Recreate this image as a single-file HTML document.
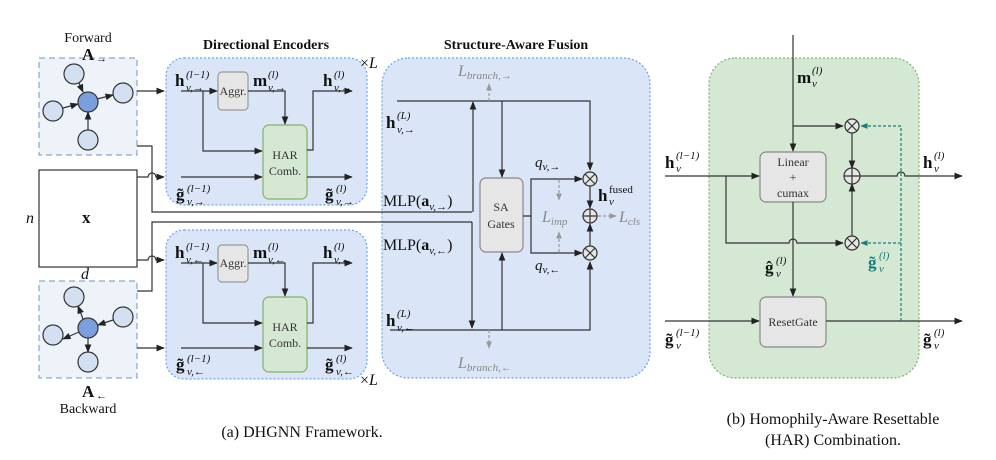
<!DOCTYPE html>
<html><head><meta charset="utf-8"><style>
html,body{margin:0;padding:0;background:#fff;}
svg{display:block;font-family:"Liberation Serif",serif;}
.b{font-weight:bold;font-size:17px;}
.s{font-style:italic;font-size:11px;}
.t{font-size:12px;fill:#333;}
.g{fill:#888;}
</style></head><body>
<svg width="996" height="460" viewBox="0 0 996 460" xmlns="http://www.w3.org/2000/svg">
<defs>
<marker id="a" viewBox="0 0 10 10" refX="9" refY="5" markerWidth="7" markerHeight="7" orient="auto-start-reverse"><path d="M0,1 L10,5 L0,9 z" fill="#222"/></marker>
<marker id="ag" viewBox="0 0 10 10" refX="9" refY="5" markerWidth="6" markerHeight="6" orient="auto-start-reverse"><path d="M0,1 L10,5 L0,9 z" fill="#999"/></marker>
<marker id="at" viewBox="0 0 10 10" refX="9" refY="5" markerWidth="6" markerHeight="6" orient="auto-start-reverse"><path d="M0,1 L10,5 L0,9 z" fill="#1a7a7a"/></marker>
</defs>
<g stroke="#333" stroke-width="1.2" fill="none">
<!-- graph boxes -->
<rect x="39" y="58" width="98" height="97" fill="#eef3fa" stroke="#8aa6c8" stroke-dasharray="6,4"/>
<rect x="39" y="281" width="98" height="97" fill="#eef3fa" stroke="#8aa6c8" stroke-dasharray="6,4"/>
<rect x="39" y="170" width="98" height="97" fill="#fff"/>
<!-- encoder boxes -->
<rect x="166" y="58" width="201" height="147" rx="18" fill="#dae5f7" stroke="#6aa0f0" stroke-dasharray="2,2"/>
<rect x="166" y="230" width="201" height="149" rx="18" fill="#dae5f7" stroke="#6aa0f0" stroke-dasharray="2,2"/>
<rect x="382" y="58" width="268" height="320" rx="26" fill="#dae5f7" stroke="#6aa0f0" stroke-dasharray="2,2"/>
<rect x="709" y="58" width="210" height="320" rx="26" fill="#d5e8d4" stroke="#82b366" stroke-dasharray="2,2"/>
<!-- nodes forward -->
<g fill="#d3e0f2" stroke="#333">
<circle cx="74" cy="74" r="10"/><circle cx="123" cy="93" r="10"/><circle cx="53" cy="111" r="10"/><circle cx="88" cy="140" r="10"/>
<circle cx="74" cy="297" r="10"/><circle cx="123" cy="317" r="10"/><circle cx="53" cy="335" r="10"/><circle cx="88" cy="362" r="10"/>
</g>
<g fill="#7a9fdc"><circle cx="88" cy="102" r="10"/><circle cx="88" cy="328" r="10"/></g>
<line x1="79" y1="83" x2="83" y2="92" marker-end="url(#a)"/>
<line x1="97" y1="99" x2="113" y2="95" marker-end="url(#a)"/>
<line x1="63" y1="108" x2="78" y2="104" marker-end="url(#a)"/>
<line x1="88" y1="130" x2="88" y2="112" marker-end="url(#a)"/>
<line x1="83" y1="319" x2="78" y2="306" marker-end="url(#a)"/>
<line x1="113" y1="320" x2="98" y2="325" marker-end="url(#a)"/>
<line x1="79" y1="332" x2="63" y2="339" marker-end="url(#a)"/>
<line x1="88" y1="338" x2="88" y2="352" marker-end="url(#a)"/>
<!-- inputs to encoders -->
<line x1="137" y1="91" x2="164" y2="91" marker-end="url(#a)"/>
<path d="M137,177 H148 a4,4 0 0 1 8,0 H164" marker-end="url(#a)"/>
<path d="M137,260 H148 a4,4 0 0 1 8,0 H164" marker-end="url(#a)"/>
<line x1="137" y1="348" x2="164" y2="348" marker-end="url(#a)"/>
<path d="M137,146 H152 V212 H472"/>
<path d="M137,291 H152 V222 H472"/>
<!-- encoder internals (upper) -->
<rect x="218" y="72" width="30" height="38" rx="4" fill="#e6e6e6" stroke="#999"/>
<rect x="263" y="125" width="44" height="74" rx="6" fill="#d5e8d4" stroke="#82b366"/>
<line x1="181" y1="91" x2="217" y2="91" marker-end="url(#a)"/>
<path d="M203,91 V151 H262" marker-end="url(#a)"/>
<path d="M248,91 H285 V124" marker-end="url(#a)"/>
<path d="M307,150 H313 V91 H352" marker-end="url(#a)"/>
<line x1="181" y1="177" x2="262" y2="177" marker-end="url(#a)"/>
<line x1="307" y1="177" x2="352" y2="177" marker-end="url(#a)"/>
<!-- lower -->
<rect x="218" y="245" width="30" height="37" rx="4" fill="#e6e6e6" stroke="#999"/>
<rect x="263" y="297" width="44" height="75" rx="6" fill="#d5e8d4" stroke="#82b366"/>
<line x1="181" y1="263" x2="217" y2="263" marker-end="url(#a)"/>
<path d="M203,263 V323 H262" marker-end="url(#a)"/>
<path d="M248,263 H285 V296" marker-end="url(#a)"/>
<path d="M307,323 H313 V263 H352" marker-end="url(#a)"/>
<line x1="181" y1="348" x2="262" y2="348" marker-end="url(#a)"/>
<line x1="307" y1="348" x2="352" y2="348" marker-end="url(#a)"/>
<!-- fusion -->
<rect x="480" y="178" width="43" height="74" rx="6" fill="#e6e6e6" stroke="#888"/>
<path d="M397,101 H590 V170" marker-end="url(#a)"/>
<line x1="473" y1="212" x2="473" y2="102" marker-end="url(#a)"/>
<line x1="472" y1="222" x2="472" y2="328" marker-end="url(#a)"/>
<path d="M390,330 H590 V262" marker-end="url(#a)"/>
<line x1="502" y1="101" x2="502" y2="177" marker-end="url(#a)"/>
<line x1="502" y1="330" x2="502" y2="253" marker-end="url(#a)"/>
<path d="M523,216 H531 V179 H582" marker-end="url(#a)"/>
<path d="M531,216 V253 H582" marker-end="url(#a)"/>
<line x1="590" y1="186" x2="590" y2="208" marker-end="url(#a)"/>
<line x1="590" y1="246" x2="590" y2="224" marker-end="url(#a)"/>
<g fill="#e6e6e6"><circle cx="590" cy="179" r="7"/><circle cx="590" cy="216" r="7"/><circle cx="590" cy="253" r="7"/></g>
<path d="M585,174 l10,10 M595,174 l-10,10 M585,248 l10,10 M595,248 l-10,10 M583,216 h14 M590,209 v14"/>
<g stroke="#999" stroke-dasharray="3,2">
<line x1="489" y1="101" x2="489" y2="84" marker-end="url(#ag)"/>
<line x1="489" y1="330" x2="489" y2="348" marker-end="url(#ag)"/>
<line x1="559" y1="180" x2="559" y2="200" marker-end="url(#ag)"/>
<line x1="559" y1="252" x2="559" y2="232" marker-end="url(#ag)"/>
<line x1="598" y1="216" x2="616" y2="216" marker-end="url(#ag)"/>
</g>
<!-- HAR panel -->
<rect x="760" y="152" width="66" height="50" rx="6" fill="#e6e6e6" stroke="#888"/>
<rect x="760" y="297" width="66" height="50" rx="6" fill="#e6e6e6" stroke="#888"/>
<line x1="793" y1="35" x2="793" y2="151" marker-end="url(#a)"/>
<path d="M793,126 H843" marker-end="url(#a)"/>
<line x1="665" y1="176" x2="759" y2="176" marker-end="url(#a)"/>
<path d="M726,176 V243 H789 a4,4 0 0 1 8,0 H843" marker-end="url(#a)"/>
<line x1="793" y1="202" x2="793" y2="296" marker-end="url(#a)"/>
<line x1="665" y1="321" x2="759" y2="321" marker-end="url(#a)"/>
<line x1="826" y1="321" x2="962" y2="321" marker-end="url(#a)"/>
<path d="M859,176 H897 a4,4 0 0 1 8,0 H962" marker-end="url(#a)"/>
<line x1="852" y1="133" x2="852" y2="168" marker-end="url(#a)"/>
<line x1="852" y1="236" x2="852" y2="184" marker-end="url(#a)"/>
<g fill="#e6e6e6"><circle cx="852" cy="126" r="7"/><circle cx="852" cy="176" r="8"/><circle cx="852" cy="243" r="7"/></g>
<path d="M847,121 l10,10 M857,121 l-10,10 M847,238 l10,10 M857,238 l-10,10 M844,176 h16 M852,168 v16"/>
<g stroke="#1a7a7a" stroke-dasharray="3,2">
<path d="M901,321 V126 H861" marker-end="url(#at)"/>
<path d="M901,243 H861" marker-end="url(#at)"/>
</g>
</g>
<!-- text -->
<g font-size="14" fill="#111">
<text x="88" y="42" text-anchor="middle">Forward</text>
<text x="82" y="60" class="b">A</text><text x="96" y="62" class="s">→</text>
<text x="82" y="397" class="b">A</text><text x="96" y="399" class="s">←</text>
<text x="88" y="413" text-anchor="middle">Backward</text>
<text x="26" y="223" font-style="italic" font-size="16">n</text>
<text x="82" y="223" class="b">x</text>
<text x="81" y="279" font-style="italic" font-size="16">d</text>
<text x="266" y="49" text-anchor="middle" font-weight="bold">Directional Encoders</text>
<text x="516" y="49" text-anchor="middle" font-weight="bold">Structure-Aware Fusion</text>
<text x="360" y="68" font-size="16">×<tspan font-style="italic">L</tspan></text>
<text x="360" y="385" font-size="16">×<tspan font-style="italic">L</tspan></text>
<!-- upper encoder labels -->
<text x="175" y="86" class="b">h</text><text x="186" y="78" class="s">(l−1)</text><text x="186" y="91" class="s">v,→</text>
<text x="253" y="86" class="b">m</text><text x="268" y="78" class="s">(l)</text><text x="268" y="91" class="s">v,→</text>
<text x="323" y="86" class="b">h</text><text x="334" y="78" class="s">(l)</text><text x="334" y="91" class="s">v,→</text>
<text x="176" y="200" class="b">g̃</text><text x="187" y="192" class="s">(l−1)</text><text x="187" y="205" class="s">v,→</text>
<text x="325" y="200" class="b">g̃</text><text x="336" y="192" class="s">(l)</text><text x="336" y="205" class="s">v,→</text>
<text x="233" y="95" text-anchor="middle" class="t" fill="#666">Aggr.</text>
<text x="285" y="159" text-anchor="middle" class="t">HAR</text><text x="285" y="175" text-anchor="middle" class="t">Comb.</text>
<!-- lower -->
<text x="175" y="258" class="b">h</text><text x="186" y="250" class="s">(l−1)</text><text x="186" y="263" class="s">v,←</text>
<text x="253" y="258" class="b">m</text><text x="268" y="250" class="s">(l)</text><text x="268" y="263" class="s">v,←</text>
<text x="323" y="258" class="b">h</text><text x="334" y="250" class="s">(l)</text><text x="334" y="263" class="s">v,←</text>
<text x="176" y="370" class="b">g̃</text><text x="187" y="362" class="s">(l−1)</text><text x="187" y="375" class="s">v,←</text>
<text x="325" y="370" class="b">g̃</text><text x="336" y="362" class="s">(l)</text><text x="336" y="375" class="s">v,←</text>
<text x="233" y="267" text-anchor="middle" class="t" fill="#666">Aggr.</text>
<text x="285" y="331" text-anchor="middle" class="t">HAR</text><text x="285" y="347" text-anchor="middle" class="t">Comb.</text>
<!-- fusion labels -->
<text x="386" y="128" class="b">h</text><text x="397" y="119" class="s">(L)</text><text x="397" y="133" class="s">v,→</text>
<text x="386" y="326" class="b">h</text><text x="397" y="317" class="s">(L)</text><text x="397" y="331" class="s">v,←</text>
<text x="383" y="206" font-size="16">MLP(<tspan font-weight="bold">a</tspan><tspan font-size="11" font-style="italic" dy="4">v,→</tspan><tspan dy="-4">)</tspan></text>
<text x="383" y="250" font-size="16">MLP(<tspan font-weight="bold">a</tspan><tspan font-size="11" font-style="italic" dy="4">v,←</tspan><tspan dy="-4">)</tspan></text>
<text x="501" y="211" text-anchor="middle" class="t">SA</text><text x="501" y="228" text-anchor="middle" class="t">Gates</text>
<text x="535" y="167" font-style="italic" font-size="15">q<tspan font-size="11" dy="3">v,→</tspan></text>
<text x="535" y="270" font-style="italic" font-size="15">q<tspan font-size="11" dy="3">v,←</tspan></text>
<text x="598" y="201" class="b">h</text><text x="609" y="193" font-size="11">fused</text><text x="609" y="205" class="s">v</text>
<g class="g" font-style="italic">
<text x="458" y="76" font-size="16">L<tspan font-size="11" dy="3">branch,→</tspan></text>
<text x="458" y="368" font-size="16">L<tspan font-size="11" dy="3">branch,←</tspan></text>
<text x="542" y="222" font-size="16">L<tspan font-size="11" dy="3">imp</tspan></text>
<text x="619" y="222" font-size="16">L<tspan font-size="11" dy="3">cls</tspan></text>
</g>
<!-- HAR labels -->
<text x="797" y="83" class="b">m</text><text x="812" y="74" class="s">(l)</text><text x="812" y="87" class="s">v</text>
<text x="665" y="168" class="b">h</text><text x="676" y="159" class="s">(l−1)</text><text x="676" y="172" class="s">v</text>
<text x="923" y="168" class="b">h</text><text x="934" y="159" class="s">(l)</text><text x="934" y="172" class="s">v</text>
<text x="665" y="345" class="b">g̃</text><text x="676" y="336" class="s">(l−1)</text><text x="676" y="349" class="s">v</text>
<text x="923" y="345" class="b">g̃</text><text x="934" y="336" class="s">(l)</text><text x="934" y="349" class="s">v</text>
<text x="765" y="273" class="b">ĝ</text><text x="776" y="264" class="s">(l)</text><text x="776" y="277" class="s">v</text>
<text x="868" y="268" class="b" fill="#1a7a7a">g̃</text><text x="879" y="259" class="s" fill="#1a7a7a">(l)</text><text x="879" y="272" class="s" fill="#1a7a7a">v</text>
<text x="793" y="166" text-anchor="middle" class="t">Linear</text>
<text x="793" y="181" text-anchor="middle" class="t" fill="#888">+</text>
<text x="793" y="197" text-anchor="middle" class="t">cumax</text>
<text x="793" y="326" text-anchor="middle" class="t">ResetGate</text>
<!-- captions -->
<text x="302" y="437" text-anchor="middle" font-size="16">(a) DHGNN Framework.</text>
<text x="833" y="424" text-anchor="middle" font-size="16">(b) Homophily-Aware Resettable</text>
<text x="833" y="445" text-anchor="middle" font-size="16">(HAR) Combination.</text>
</g>
</svg>
</body></html>
